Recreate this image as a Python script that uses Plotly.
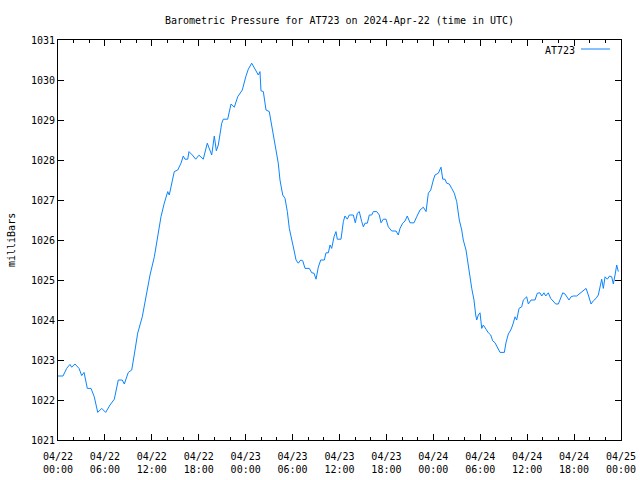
import plotly.graph_objects as go
from datetime import datetime, timedelta

# hours since 2024-04-22 00:00 UTC
hours = [0.0, 0.64, 1.11, 1.53, 1.75, 2.17, 2.69, 3.03, 3.33, 3.75, 4.22, 4.64, 5.08, 5.59, 6.10,
         6.65, 7.20, 7.71, 8.22, 8.48, 8.99, 9.43, 9.85, 10.19, 10.78, 11.22, 11.77, 12.32, 12.75,
         13.17, 13.59, 14.03, 14.23, 14.54, 14.87, 15.31, 15.73, 16.02, 16.24, 16.59, 16.75, 17.18,
         17.61, 18.03, 18.58, 19.09, 19.44, 19.66, 19.99, 20.25, 20.50, 20.94, 21.14, 21.70, 22.13,
         22.55, 22.98, 23.57, 24.01, 24.34, 24.77, 25.19, 25.62, 25.83, 25.96, 26.26, 26.60, 27.02,
         27.46, 27.88, 28.17, 28.39, 28.74, 29.03, 29.33, 29.58, 29.89, 30.18, 30.44, 30.73, 31.04,
         31.30, 31.59, 32.14, 32.45, 32.74, 33.00, 33.29, 33.60, 34.06, 34.27, 34.57, 34.79, 35.00,
         35.30, 35.55, 35.72, 36.19, 36.49, 36.70, 37.00, 37.25, 37.77, 38.02, 38.28, 38.53, 38.84,
         39.05, 39.26, 39.56, 39.81, 40.12, 40.32, 40.76, 41.09, 41.31, 41.60, 41.95, 42.24, 42.68,
         43.23, 43.52, 43.74, 44.08, 44.38, 44.67, 45.02, 45.53, 45.87, 46.30, 46.72, 47.07, 47.36,
         47.67, 48.00, 48.21, 48.64, 48.98, 49.20, 49.49, 49.71, 50.04, 50.35, 50.68, 50.99, 51.32,
         51.63, 51.83, 52.18, 52.47, 52.69, 52.91, 53.20, 53.42, 53.55, 53.75, 53.97, 54.19, 54.39,
         54.74, 55.03, 55.34, 55.59, 55.89, 56.18, 56.53, 57.08, 57.29, 57.59, 57.90, 58.15, 58.45,
         58.66, 58.96, 59.30, 59.51, 59.94, 60.15, 60.49, 61.00, 61.30, 61.64, 61.86, 62.15, 62.37,
         62.70, 63.01, 63.35, 63.65, 63.99, 64.29, 64.55, 64.84, 65.06, 65.35, 65.61, 65.90, 66.34,
         66.76, 67.18, 67.53, 67.82, 68.17, 68.46, 68.81, 69.10, 69.32, 69.53, 69.74, 69.96, 70.25,
         70.54, 70.81, 71.02, 71.24, 71.45, 71.66]

pressure = [1022.6, 1022.6, 1022.79, 1022.89, 1022.82, 1022.9, 1022.79, 1022.61, 1022.69, 1022.29,
            1022.29, 1022.08, 1021.69, 1021.79, 1021.69, 1021.875, 1022.02, 1022.5, 1022.5, 1022.4,
            1022.69, 1022.75, 1023.25, 1023.67, 1024.08, 1024.54, 1025.125, 1025.58, 1026.08,
            1026.58, 1026.92, 1027.21, 1027.125, 1027.42, 1027.71, 1027.75, 1027.92, 1028.1,
            1028.02, 1028.02, 1028.21, 1028.125, 1028.02, 1028.12, 1028.02, 1028.42, 1028.25,
            1028.125, 1028.6, 1028.23, 1028.375, 1028.92, 1029.02, 1029.02, 1029.4, 1029.32,
            1029.58, 1029.75, 1030.08, 1030.27, 1030.42, 1030.29, 1030.125, 1030.21, 1029.73,
            1029.71, 1029.25, 1029.21, 1028.75, 1028.25, 1027.92, 1027.5, 1027.125, 1027.04,
            1026.71, 1026.29, 1026.04, 1025.75, 1025.5, 1025.42, 1025.5, 1025.48, 1025.29, 1025.29,
            1025.18, 1025.17, 1025.02, 1025.32, 1025.5, 1025.5, 1025.68, 1025.68, 1025.875, 1025.79,
            1026.08, 1026.21, 1026.02, 1026.02, 1026.46, 1026.6, 1026.52, 1026.625, 1026.625,
            1026.43, 1026.67, 1026.71, 1026.46, 1026.33, 1026.42, 1026.42, 1026.625, 1026.625,
            1026.71, 1026.71, 1026.625, 1026.43, 1026.52, 1026.52, 1026.33, 1026.225, 1026.225,
            1026.125, 1026.29, 1026.42, 1026.475, 1026.6, 1026.43, 1026.43, 1026.58, 1026.75,
            1026.82, 1026.71, 1027.17, 1027.25, 1027.5, 1027.625, 1027.67, 1027.82, 1027.52,
            1027.52, 1027.42, 1027.4, 1027.29, 1027.17, 1026.96, 1026.5, 1026.25, 1026.0, 1025.75,
            1025.42, 1025.08, 1024.79, 1024.5, 1024.125, 1024.0, 1024.125, 1024.18, 1023.79,
            1023.875, 1023.77, 1023.68, 1023.625, 1023.48, 1023.43, 1023.32, 1023.19, 1023.19,
            1023.43, 1023.65, 1023.75, 1023.875, 1024.08, 1024.0, 1024.29, 1024.33, 1024.5, 1024.58,
            1024.4, 1024.5, 1024.5, 1024.67, 1024.68, 1024.6, 1024.68, 1024.6, 1024.68, 1024.54,
            1024.46, 1024.4, 1024.4, 1024.58, 1024.68, 1024.65, 1024.58, 1024.5, 1024.58, 1024.6,
            1024.6, 1024.67, 1024.73, 1024.79, 1024.625, 1024.4, 1024.48, 1024.54, 1024.625,
            1024.875, 1025.02, 1024.79, 1025.08, 1025.02, 1025.1, 1025.08, 1024.9, 1025.125,
            1025.375, 1025.21]

series_name = "AT723"
title_text = "Barometric Pressure for AT723 on 2024-Apr-22 (time in UTC)"
y_label = "milliBars"

base = datetime(2024, 4, 22)
times = [base + timedelta(hours=h) for h in hours]

FONT = "DejaVu Sans Mono"
LINE_COLOR = "rgb(10,132,255)"

fig = go.Figure()
fig.add_trace(go.Scatter(x=times, y=pressure, mode="lines", name=series_name,
                         line=dict(color=LINE_COLOR, width=1), showlegend=False))

L, R, T, B = 58, 19, 40, 40
W, H = 640, 480
pw, ph = W - L - R, H - T - B

axis_common = dict(showline=True, linecolor="black", linewidth=1, mirror="ticks",
                   ticks="inside", tickcolor="black", showgrid=False, zeroline=False,
                   automargin=False,
                   tickfont=dict(family=FONT, size=10, color="black"))

fig.update_xaxes(range=[base, base + timedelta(days=3)], type="date",
                 dtick=6 * 3600 * 1000, tick0=base, tickformat="%m/%d<br>%H:%M",
                 ticklen=6, ticklabelstandoff=7,
                 minor=dict(dtick=2 * 3600 * 1000, ticks="inside", ticklen=3, tickcolor="black",
                            showgrid=False),
                 **axis_common)
fig.update_yaxes(range=[1021, 1031], dtick=1, ticklen=6, **axis_common)

# legend (gnuplot style: text then line sample)
fig.add_annotation(text=series_name, xref="paper", yref="paper",
                   x=(577 - L) / pw, y=(H - B - 50) / ph, xanchor="right", yanchor="middle",
                   showarrow=False, font=dict(family=FONT, size=10, color="black"))
fig.add_shape(type="line", xref="paper", yref="paper",
              x0=(581 - L) / pw, x1=(610 - L) / pw,
              y0=(H - B - 49) / ph, y1=(H - B - 49) / ph,
              line=dict(color=LINE_COLOR, width=1))

# y-axis label
fig.add_annotation(text=y_label, xref="paper", yref="paper",
                   x=(11 - L) / pw, y=0.5, xanchor="center", yanchor="middle",
                   textangle=-90, showarrow=False,
                   font=dict(family=FONT, size=10, color="black"))

fig.update_layout(
    width=W, height=H,
    margin=dict(l=L, r=R, t=T, b=B, autoexpand=False),
    paper_bgcolor="white", plot_bgcolor="white",
    title=dict(text=title_text, x=(L + pw / 2) / W, xanchor="center",
               y=1 - 20 / H, yanchor="middle",
               font=dict(family=FONT, size=10, color="black")),
    showlegend=False,
)

fig.write_html("out.html")
